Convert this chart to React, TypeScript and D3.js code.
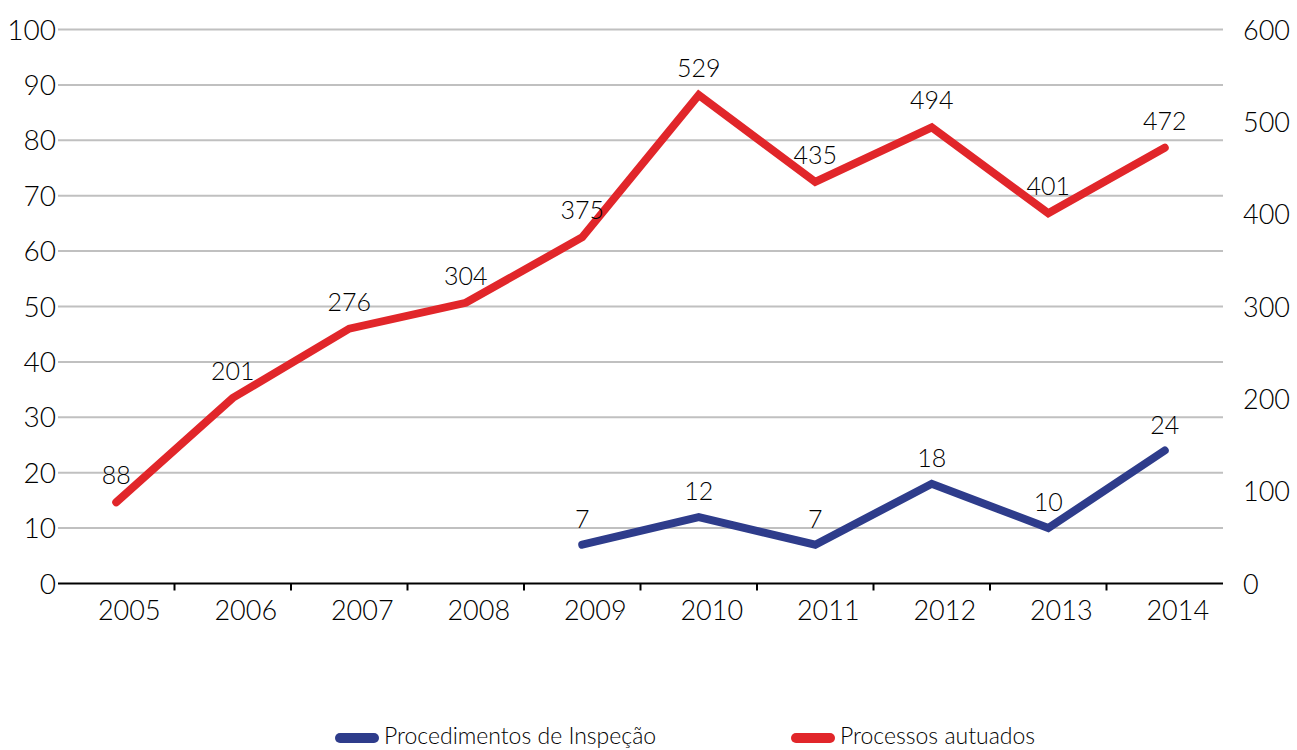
import React from "react";
import * as d3 from "d3";

const years = ["2005", "2006", "2007", "2008", "2009", "2010", "2011", "2012", "2013", "2014"];
const processos = [88, 201, 276, 304, 375, 529, 435, 494, 401, 472];
const procYears = ["2009", "2010", "2011", "2012", "2013", "2014"];
const procedimentos = [7, 12, 7, 18, 10, 24];
const leftTicks = [0, 10, 20, 30, 40, 50, 60, 70, 80, 90, 100];
const rightTicks = [0, 100, 200, 300, 400, 500, 600];

const RED = "#E1262A";
const BLUE = "#2E3C8B";
const FONT = "Lato, 'Noto Sans', sans-serif";

export default function App() {
  const width = 1297;
  const height = 750;
  const left = 58;
  const right = 1223;
  const top = 29.5;
  const bottom = 583.5;

  const x = d3.scaleBand().domain(years).range([left, right]);
  const yL = d3.scaleLinear().domain([0, 100]).range([bottom, top]);
  const yR = d3.scaleLinear().domain([0, 600]).range([bottom, top]);
  const cx = (yr: string) => (x(yr) as number) + x.bandwidth() / 2;

  const redPts: [number, number][] = years.map((yr, i) => [cx(yr), yR(processos[i])]);
  const bluePts: [number, number][] = procYears.map((yr, i) => [cx(yr), yL(procedimentos[i])]);
  const line = d3.line();

  return (
    <svg width={width} height={height} style={{ position: "absolute", left: 0, top: 0, background: "#fff" }}>
      {/* gridlines */}
      {leftTicks.filter(t => t > 0).map(t => (
        <line key={t} x1={left} x2={right} y1={yL(t)} y2={yL(t)} stroke="#C0C0C0" strokeWidth={2} />
      ))}
      {/* axis */}
      <line x1={left} x2={right} y1={bottom} y2={bottom} stroke="#000" strokeWidth={2} />
      {years.slice(1).map(yr => (
        <line key={yr} x1={x(yr)} x2={x(yr)} y1={bottom} y2={bottom + 7} stroke="#000" strokeWidth={2} />
      ))}
      {years.map(yr => (
        <text key={yr} x={cx(yr) + 13} y={620} textAnchor="middle" fontFamily={FONT} fontWeight={300} fontSize={27} fill="#000">{yr}</text>
      ))}
      {leftTicks.map(t => (
        <text key={t} x={56} y={yL(t) + 10} textAnchor="end" fontFamily={FONT} fontWeight={300} fontSize={28} fill="#000">{t}</text>
      ))}
      {rightTicks.map(t => (
        <text key={t} x={1243} y={yR(t) + 10} textAnchor="start" fontFamily={FONT} fontWeight={300} fontSize={27} fill="#000">{t}</text>
      ))}
      {/* lines */}
      <path d={line(redPts) || ""} fill="none" stroke={RED} strokeWidth={8} strokeLinecap="round" strokeLinejoin="miter" />
      <path d={line(bluePts) || ""} fill="none" stroke={BLUE} strokeWidth={8} strokeLinecap="round" strokeLinejoin="miter" />
      {/* data labels */}
      {redPts.map((p, i) => (
        <text key={"r" + i} x={p[0]} y={p[1] - 18} textAnchor="middle" fontFamily={FONT} fontWeight={300} fontSize={25} fill="#000">{processos[i]}</text>
      ))}
      {bluePts.map((p, i) => (
        <text key={"b" + i} x={p[0]} y={p[1] - 17} textAnchor="middle" fontFamily={FONT} fontWeight={300} fontSize={25} fill="#000">{procedimentos[i]}</text>
      ))}
      {/* legend */}
      <line x1={340} x2={374} y1={738} y2={738} stroke={BLUE} strokeWidth={10} strokeLinecap="round" />
      <text x={384} y={744} fontFamily={FONT} fontWeight={300} fontSize={23} fill="#000">Procedimentos de Inspeção</text>
      <line x1={796} x2={830} y1={738} y2={738} stroke={RED} strokeWidth={10} strokeLinecap="round" />
      <text x={840} y={744} fontFamily={FONT} fontWeight={300} fontSize={23} fill="#000">Processos autuados</text>
    </svg>
  );
}
